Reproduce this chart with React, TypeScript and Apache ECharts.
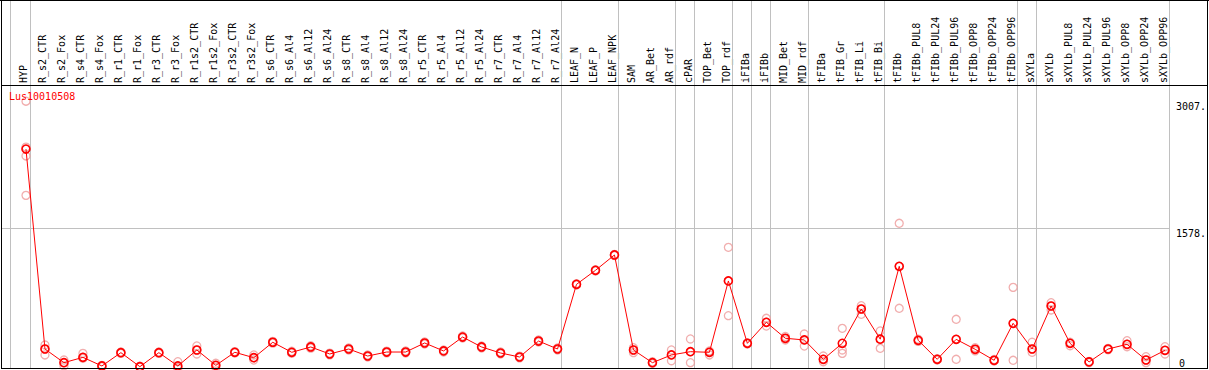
import React, { useEffect, useRef } from 'react';
import * as echarts from 'echarts';

const TITLE = 'Lus10010508';

const CATEGORIES = [
  'HYP', 'R_s2_CTR', 'R_s2_Fox', 'R_s4_CTR', 'R_s4_Fox', 'R_r1_CTR', 'R_r1_Fox', 'R_r3_CTR', 'R_r3_Fox',
  'R_r1s2_CTR', 'R_r1s2_Fox', 'R_r3s2_CTR', 'R_r3s2_Fox', 'R_s6_CTR', 'R_s6_Al4', 'R_s6_Al12', 'R_s6_Al24',
  'R_s8_CTR', 'R_s8_Al4', 'R_s8_Al12', 'R_s8_Al24', 'R_r5_CTR', 'R_r5_Al4', 'R_r5_Al12', 'R_r5_Al24',
  'R_r7_CTR', 'R_r7_Al4', 'R_r7_Al12', 'R_r7_Al24', 'LEAF_N', 'LEAF_P', 'LEAF_NPK', 'SAM', 'AR_Bet', 'AR_rdf',
  'cPAR', 'TOP_Bet', 'TOP_rdf', 'iFIBa', 'iFIBb', 'MID_Bet', 'MID_rdf', 'tFIBa', 'tFIB_Gr', 'tFIB_Li', 'tFIB_Bi',
  'tFIBb', 'tFIBb_PUL8', 'tFIBb_PUL24', 'tFIBb_PUL96', 'tFIBb_OPP8', 'tFIBb_OPP24', 'tFIBb_OPP96',
  'sXYLa', 'sXYLb', 'sXYLb_PUL8', 'sXYLb_PUL24', 'sXYLb_PUL96', 'sXYLb_OPP8', 'sXYLb_OPP24', 'sXYLb_OPP96',
];

const MEANS = [
  2468, 214, 60, 120, 23, 173, 15, 173, 23,
  203, 30, 177, 116, 290, 177, 237, 158,
  214, 135, 180, 180, 282, 192, 349, 237,
  169, 124, 304, 214, 943, 1101, 1274, 203, 60, 147,
  184, 177, 981, 278, 515, 335, 316, 98, 278, 665, 325,
  1146, 312, 98, 323, 211, 87, 504,
  214, 699, 278, 68, 214, 267, 90, 199,
];

const REPLICATES = [
  [3007, 2490, 2390, 1946], [259, 214, 147], [90, 60, 23], [165, 120, 109], [30, 20, 15],
  [180, 173, 165], [20, 15, 10], [180, 173, 165], [71, 5, 0],
  [248, 203, 158], [53, 30, 8], [185, 177, 170], [147, 116, 90], [300, 290, 280],
  [188, 177, 166], [250, 237, 224], [168, 158, 148],
  [226, 214, 202], [146, 135, 124], [190, 180, 170], [192, 180, 168],
  [294, 282, 270], [203, 192, 181], [360, 349, 338], [248, 237, 226],
  [180, 169, 158], [134, 124, 114], [316, 304, 292], [225, 214, 203],
  [950, 943, 936], [1108, 1101, 1094], [1281, 1274, 1267],
  [229, 203, 173], [70, 60, 50], [203, 147, 82],
  [327, 184, 60], [192, 177, 147], [1360, 981, 590], [285, 278, 270], [560, 515, 473],
  [355, 335, 316], [383, 316, 248], [135, 98, 71], [447, 203, 165], [702, 665, 605], [417, 325, 222],
  [1631, 1146, 673], [325, 312, 300], [105, 98, 90], [549, 323, 98], [229, 211, 193], [95, 87, 80], [909, 504, 87],
  [290, 214, 177], [736, 699, 654], [290, 278, 251], [75, 68, 60], [220, 214, 205], [308, 267, 240],
  [127, 90, 60], [240, 199, 158],
];

// group separators: index of last category of each group
const GROUP_ENDS = [0, 28, 31, 34, 35, 37, 38, 39, 41, 45, 52, 53, 60];
const LEADING_SEPARATOR = -0.84;
const Y_LABELS_TOP = [1578, 3007];
const Y_LABELS_BOTTOM = [0];
const H_GRIDLINE = 1578;

// layout
const STEP = 19;
const FIRST_X = 26;
const PLOT_LEFT = 1;
const PLOT_RIGHT = 1170;
const XMIN = -(FIRST_X - PLOT_LEFT) / STEP;
const XMAX = XMIN + (PLOT_RIGHT - PLOT_LEFT) / STEP;
const BOTTOM = 368;
const PX_PER_UNIT = 140 / 1578;
const YMAX0 = BOTTOM / PX_PER_UNIT;
const MONO = '"DejaVu Sans Mono", "Liberation Mono", monospace';

export default function App() {
  const ref = useRef<HTMLDivElement>(null);
  useEffect(() => {
    document.body.style.margin = '0';
    const chart = echarts.init(ref.current!, null, { renderer: 'svg' });
    const repPoints: number[][] = [];
    REPLICATES.forEach((reps, i) => reps.forEach((v) => repPoints.push([i, v])));
    const meanPoints = MEANS.map((v, i) => [i, v]);
    const sepLines = [
      { xAxis: LEADING_SEPARATOR },
      ...GROUP_ENDS.map((i) => ({ xAxis: i + 4 / STEP })),
      { yAxis: H_GRIDLINE },
    ];
    const frame = [
      [0, 0.5, 1209, 0.5],
      [1, 85.5, 1208, 85.5],
      [1, 368.5, 1208, 368.5],
      [1.5, 0, 1.5, 369],
      [1207.5, 0, 1207.5, 369],
    ];
    const yLabelBase = {
      show: true,
      fontFamily: MONO,
      fontSize: 10,
      color: '#000',
    };
    const option: any = {
      animation: false,
      backgroundColor: '#fff',
      title: {
        text: TITLE,
        left: 9,
        top: 91,
        padding: 0,
        textStyle: { color: '#ff0000', fontSize: 10, fontWeight: 'normal', fontFamily: MONO },
      },
      grid: [
        { left: PLOT_LEFT, top: 0, width: PLOT_RIGHT - PLOT_LEFT, height: BOTTOM },
        { left: FIRST_X - STEP / 2 - 2.5, top: 85, width: STEP * CATEGORIES.length, height: BOTTOM - 85 },
      ],
      xAxis: [
        { type: 'value', gridIndex: 0, min: XMIN, max: XMAX, show: false },
        {
          type: 'category',
          gridIndex: 1,
          position: 'top',
          data: CATEGORIES,
          boundaryGap: true,
          axisLine: { show: false },
          axisTick: { show: false },
          splitLine: { show: false },
          axisLabel: {
            interval: 0,
            rotate: 90,
            margin: 2,
            fontFamily: MONO,
            fontSize: 10,
            color: '#000',
          },
        },
      ],
      yAxis: [
        {
          type: 'value',
          gridIndex: 0,
          min: 0,
          max: YMAX0,
          position: 'right',
          axisLine: { show: false },
          axisTick: { show: false },
          splitLine: { show: false },
          axisLabel: {
            ...yLabelBase,
            customValues: Y_LABELS_TOP,
            verticalAlign: 'top',
            align: 'right',
            margin: 37,
            formatter: (v: number) => `${v}.`,
          },
        },
        {
          type: 'value',
          gridIndex: 0,
          min: 0,
          max: YMAX0,
          position: 'right',
          axisLine: { show: false },
          axisTick: { show: false },
          splitLine: { show: false },
          axisLabel: {
            ...yLabelBase,
            customValues: Y_LABELS_BOTTOM,
            verticalAlign: 'bottom',
            align: 'left',
            margin: 10,
            formatter: (v: number) => `${v}`,
          },
        },
        { type: 'value', gridIndex: 1, min: 0, max: 1, show: false },
      ],
      series: [
        {
          type: 'scatter',
          xAxisIndex: 0,
          yAxisIndex: 0,
          data: repPoints,
          symbol: 'circle',
          symbolSize: 8,
          itemStyle: { color: 'rgba(255,255,255,0)', borderColor: '#ee9a9a', borderWidth: 1.3 },
          z: 2,
          silent: true,
          markLine: {
            silent: true,
            symbol: 'none',
            label: { show: false },
            lineStyle: { color: '#c0c0c0', width: 1, type: 'solid' },
            data: sepLines,
            z: 1,
          },
        },
        {
          type: 'line',
          xAxisIndex: 0,
          yAxisIndex: 0,
          data: meanPoints,
          symbol: 'circle',
          symbolSize: 8,
          showAllSymbol: true,
          lineStyle: { color: '#ff0000', width: 1 },
          itemStyle: { color: 'rgba(255,255,255,0)', borderColor: '#ff0000', borderWidth: 1.6 },
          z: 3,
          silent: true,
        },
      ],
      graphic: frame.map(([x1, y1, x2, y2]) => ({
        type: 'line',
        shape: { x1, y1, x2, y2 },
        style: { stroke: '#000', lineWidth: 1 },
        z: 100,
        silent: true,
      })),
    };
    chart.setOption(option);
    return () => chart.dispose();
  }, []);
  return <div ref={ref} style={{ width: 1209, height: 370 }} />;
}
